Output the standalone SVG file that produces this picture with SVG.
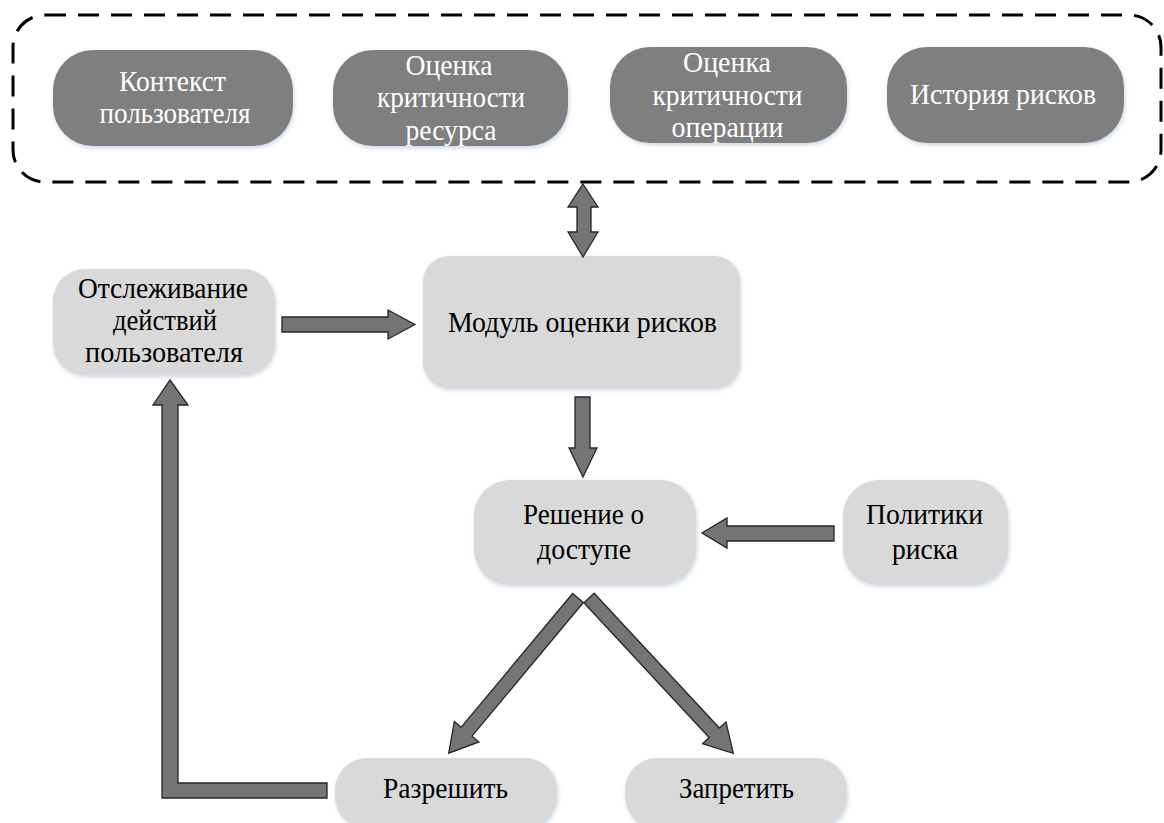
<svg xmlns="http://www.w3.org/2000/svg" width="1164" height="823" viewBox="0 0 1164 823">
<defs>
<filter id="sh" x="-10%" y="-10%" width="120%" height="130%">
<feDropShadow dx="1" dy="2" stdDeviation="2" flood-color="#9db8d6" flood-opacity="0.55"/>
</filter>
<style>
.dark{fill:#7f7f7f;filter:url(#sh)}
.light{fill:#d9d9d9;filter:url(#sh)}
.tw{font-size:29px;fill:#ffffff;text-anchor:middle}
.tb{font-size:29px;fill:#000000;text-anchor:middle}
.arr{fill:#747474;stroke:#262626;stroke-width:1.3;stroke-linejoin:miter}
.cont{fill:none;stroke:#000;stroke-width:3;stroke-dasharray:21 12}
</style>
</defs>
<rect width="1164" height="823" fill="#ffffff"/>

<g id="container">
<rect class="cont" x="13" y="15" width="1148" height="167" rx="32" ry="32"/>
</g>

<g font-family="'Liberation Serif', 'DejaVu Serif', serif">
<g id="n-context">
<rect class="dark" x="53" y="50" width="240" height="96" rx="40" ry="40"/>
<text class="tw" x="172.5" y="91" textLength="107" lengthAdjust="spacingAndGlyphs">Контекст</text>
<text class="tw" x="175" y="123" textLength="151" lengthAdjust="spacingAndGlyphs">пользователя</text>
</g>
<g id="n-resource">
<rect class="dark" x="333" y="50" width="235" height="96" rx="40" ry="40"/>
<text class="tw" x="449" y="75" textLength="87" lengthAdjust="spacingAndGlyphs">Оценка</text>
<text class="tw" x="451" y="107" textLength="148" lengthAdjust="spacingAndGlyphs">критичности</text>
<text class="tw" x="451" y="140" textLength="91" lengthAdjust="spacingAndGlyphs">ресурса</text>
</g>
<g id="n-operation">
<rect class="dark" x="610" y="47" width="237" height="96" rx="40" ry="40"/>
<text class="tw" x="727" y="72" textLength="88" lengthAdjust="spacingAndGlyphs">Оценка</text>
<text class="tw" x="727.5" y="105" textLength="150" lengthAdjust="spacingAndGlyphs">критичности</text>
<text class="tw" x="727.5" y="137" textLength="112" lengthAdjust="spacingAndGlyphs">операции</text>
</g>
<g id="n-history">
<rect class="dark" x="887" y="47" width="237" height="96" rx="40" ry="40"/>
<text class="tw" x="1003" y="104" textLength="186" lengthAdjust="spacingAndGlyphs">История рисков</text>
</g>

<g id="n-module">
<rect class="light" x="423" y="256" width="317" height="132" rx="26" ry="26"/>
<text class="tb" x="582.5" y="332" textLength="269" lengthAdjust="spacingAndGlyphs">Модуль оценки рисков</text>
</g>
<g id="n-tracking">
<rect class="light" x="53" y="269" width="222" height="106" rx="32" ry="32"/>
<text class="tb" x="163" y="298" textLength="170" lengthAdjust="spacingAndGlyphs">Отслеживание</text>
<text class="tb" x="165" y="330" textLength="104" lengthAdjust="spacingAndGlyphs">действий</text>
<text class="tb" x="164" y="362" textLength="158" lengthAdjust="spacingAndGlyphs">пользователя</text>
</g>
<g id="n-decision">
<rect class="light" x="474" y="480" width="222" height="105" rx="36" ry="36"/>
<text class="tb" x="583.5" y="524" textLength="121" lengthAdjust="spacingAndGlyphs">Решение о</text>
<text class="tb" x="584" y="559" textLength="94" lengthAdjust="spacingAndGlyphs">доступе</text>
</g>
<g id="n-policy">
<rect class="light" x="843" y="480" width="165" height="105" rx="36" ry="36"/>
<text class="tb" x="924.5" y="524" textLength="117" lengthAdjust="spacingAndGlyphs">Политики</text>
<text class="tb" x="925" y="559" textLength="66" lengthAdjust="spacingAndGlyphs">риска</text>
</g>
<g id="n-allow">
<rect class="light" x="335" y="758" width="222" height="70" rx="32" ry="32"/>
<text class="tb" x="445.5" y="798" textLength="125" lengthAdjust="spacingAndGlyphs">Разрешить</text>
</g>
<g id="n-deny">
<rect class="light" x="625" y="758" width="222" height="70" rx="32" ry="32"/>
<text class="tb" x="736.5" y="798" textLength="115" lengthAdjust="spacingAndGlyphs">Запретить</text>
</g>
</g>

<g id="connectors">
<polygon class="arr" points="583,184 598,207 591,207 591,232 598,232 583,257 568,232 577,232 577,207 568,207"/>
<polygon class="arr" points="282,317 388,317 388,310 415,324.5 388,339 388,332 282,332"/>
<polygon class="arr" points="575,397 590,397 590,448 597,448 583,477 569,448 575,448"/>
<polygon class="arr" points="834,526 727,526 727,518 702,533 727,548 727,541 834,541"/>
<polygon class="arr" transform="translate(578,598) rotate(129.8)" points="0,-7 174,-7 174,-16 202,0 174,16 174,7 0,7"/>
<polygon class="arr" transform="translate(589,598) rotate(47.1)" points="0,-7 184,-7 184,-16 212,0 184,16 184,7 0,7"/>
<polygon class="arr" points="327,783 178,783 178,405 188,405 170,380 153,405 162,405 162,798 327,798"/>
</g>
</svg>
